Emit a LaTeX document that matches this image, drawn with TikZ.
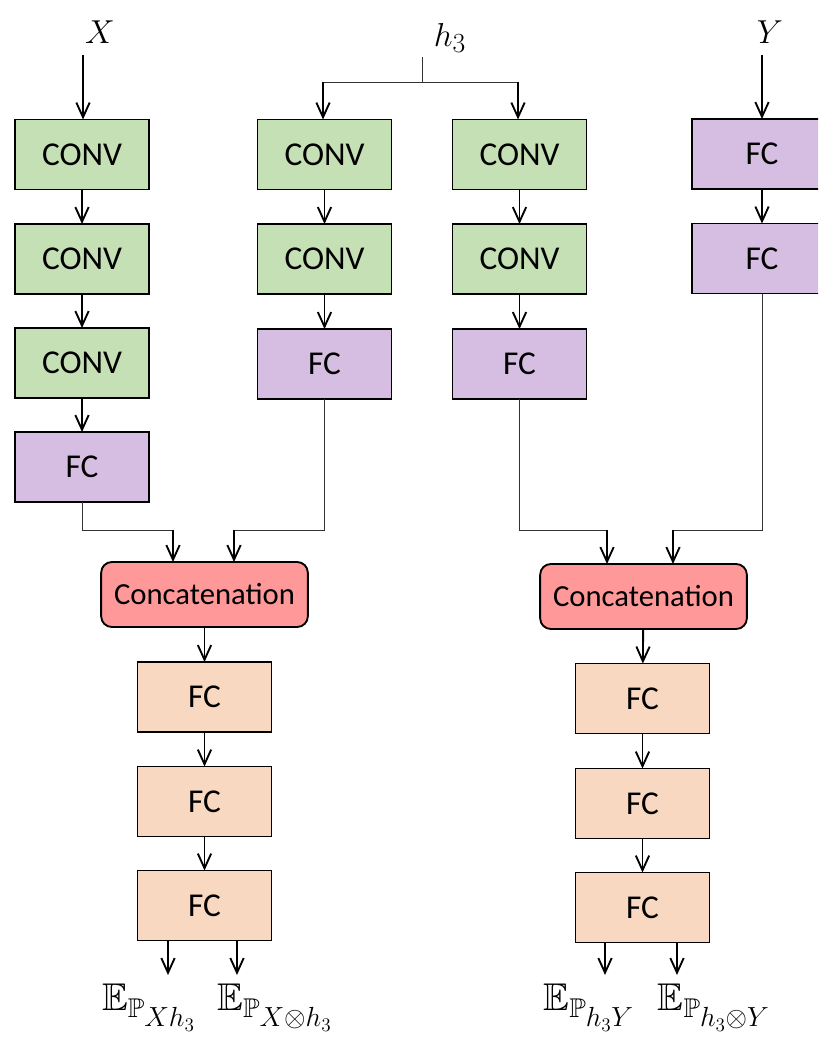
\documentclass[tikz,border=0pt]{standalone}
\usepackage{fontspec}
\setmainfont{Carlito}
\usepackage{amssymb}
\usetikzlibrary{arrows.meta}
\definecolor{convgreen}{RGB}{197,224,180}
\definecolor{fcpurple}{RGB}{213,190,226}
\definecolor{catred}{RGB}{255,153,153}
\definecolor{fcpeach}{RGB}{248,216,192}
\tikzset{
  blk/.style={draw, line width=1.4pt, minimum width=100.5pt, minimum height=52.5pt, inner sep=0pt, outer sep=0pt, font=\fontsize{25}{30}\selectfont},
  convbox/.style={blk, fill=convgreen},
  fcbox/.style={blk, fill=fcpurple},
  outbox/.style={blk, fill=fcpeach},
  catbox/.style={blk, fill=catred, rounded corners=8pt, minimum width=155pt, minimum height=48.75pt, font=\fontsize{23}{28}\selectfont},
  arr/.style={-{Straight Barb[length=11pt,width=10pt,line width=1.4pt]}, line width=1.4pt},
  thinline/.style={line width=0.7pt, draw=black!80},
  mlabel/.style={inner sep=0pt, font=\fontsize{32}{38}\selectfont},
  elabel/.style={inner sep=0pt, anchor=base, font=\fontsize{29}{34}\selectfont}
}
\begin{document}
\begin{tikzpicture}[x=0.75pt,y=-0.75pt]
\useasboundingbox (0,0) rectangle (818,1037);
\clip (0,0) rectangle (818,1037);

% top labels
\node[mlabel] (X) at (100,32) {$X$};
\node[mlabel] (H) at (450,38) {$h_3$};
\node[mlabel] (Y) at (770,32) {$Y$};

% column 1
\node[convbox] (c1a) at (82,154.5) {CONV};
\node[convbox] (c1b) at (82,259) {CONV};
\node[convbox] (c1c) at (82,363) {CONV};
\node[fcbox] (f1) at (82,467) {FC};

% column 2
\node[convbox] (c2a) at (324.5,154.5) {CONV};
\node[convbox] (c2b) at (324.5,259) {CONV};
\node[fcbox] (f2) at (324.5,364) {FC};

% column 3
\node[convbox] (c3a) at (519.5,154.5) {CONV};
\node[convbox] (c3b) at (519.5,259) {CONV};
\node[fcbox] (f3) at (519.5,364) {FC};

% column 4
\node[fcbox, minimum width=105pt] (f4a) at (762,154) {FC};
\node[fcbox, minimum width=105pt] (f4b) at (762,258.5) {FC};

% concatenations
\node[catbox] (cat1) at (204.5,594.5) {Concatenation};
\node[catbox] (cat2) at (643.5,596.5) {Concatenation};

% lower FC stacks
\node[outbox] (o1a) at (204.5,697) {FC};
\node[outbox] (o1b) at (204.5,801.5) {FC};
\node[outbox] (o1c) at (204.5,905.5) {FC};
\node[outbox] (o2a) at (642.5,698.5) {FC};
\node[outbox] (o2b) at (642.5,803.5) {FC};
\node[outbox] (o2c) at (642.5,907.5) {FC};

% inputs
\coordinate (xs) at (83,55);
\draw[arr] (xs) -- (xs |- c1a.north);
\coordinate (ys) at (762,55);
\draw[arr] (ys) -- (ys |- f4a.north);
\coordinate (hs) at (422,57);
\coordinate (hj) at (422,82);
\coordinate (hl) at (323,82);
\coordinate (hr) at (518,82);
\draw[thinline] (hs) -- (hj);
\draw[thinline] (hl) -- (hr);
\draw[arr] (hl) -- (hl |- c2a.north);
\draw[arr] (hr) -- (hr |- c3a.north);

% vertical chains
\draw[arr] (c1a) -- (c1b);
\draw[arr] (c1b) -- (c1c);
\draw[arr] (c1c) -- (f1);
\draw[arr] (c2a) -- (c2b);
\draw[arr] (c2b) -- (f2);
\draw[arr] (c3a) -- (c3b);
\draw[arr] (c3b) -- (f3);
\draw[arr] (f4a) -- (f4b);

% into concatenations
\coordinate (k1) at (173,530);
\coordinate (k2) at (234,530);
\coordinate (k3) at (607,530);
\coordinate (k4) at (673,530);
\draw[thinline] (f1.south) |- (k1);
\draw[thinline] (f2.south) |- (k2);
\draw[thinline] (f3.south) |- (k3);
\draw[thinline] (f4b.south) |- (k4);
\draw[arr] (k1) -- (k1 |- cat1.north);
\draw[arr] (k2) -- (k2 |- cat1.north);
\draw[arr] (k3) -- (k3 |- cat2.north);
\draw[arr] (k4) -- (k4 |- cat2.north);

% lower chains
\draw[arr] (cat1) -- (o1a);
\draw[arr] (o1a) -- (o1b);
\draw[arr] (o1b) -- (o1c);
\draw[arr] (cat2) -- (o2a);
\draw[arr] (o2a) -- (o2b);
\draw[arr] (o2b) -- (o2c);

% outputs
\coordinate (e1) at (168,975);
\coordinate (e2) at (237,975);
\coordinate (e3) at (605,975);
\coordinate (e4) at (677,975);
\draw[arr] (e1 |- o1c.south) -- (e1);
\draw[arr] (e2 |- o1c.south) -- (e2);
\draw[arr] (e3 |- o2c.south) -- (e3);
\draw[arr] (e4 |- o2c.south) -- (e4);

\node[elabel] (l1) at (149,1010) {$\mathbb{E}_{\mathbb{P}_{\scriptstyle Xh_3}}$};
\node[elabel] (l2) at (275,1010) {$\mathbb{E}_{\mathbb{P}_{\scriptstyle X\otimes h_3}}$};
\node[elabel] (l3) at (589,1010) {$\mathbb{E}_{\mathbb{P}_{\scriptstyle h_3Y}}$};
\node[elabel] (l4) at (714,1010) {$\mathbb{E}_{\mathbb{P}_{\scriptstyle h_3\otimes Y}}$};
\end{tikzpicture}
\end{document}
